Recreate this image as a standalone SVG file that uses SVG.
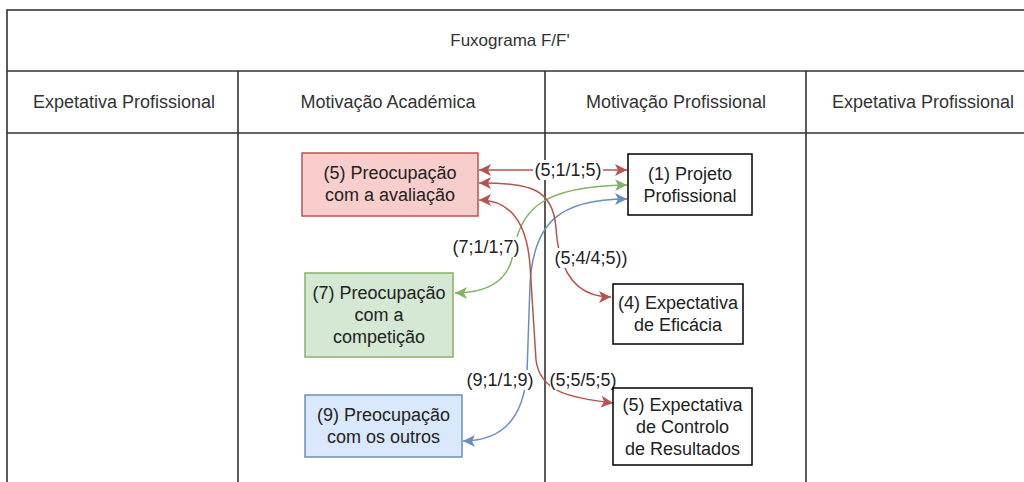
<svg xmlns="http://www.w3.org/2000/svg" width="1024" height="482" viewBox="0 0 1024 482">
<style>
text { font-family: "Liberation Sans", Arial, sans-serif; font-size: 18px; fill: #222; text-anchor: middle; dominant-baseline: central; }
.hdr { fill: #333; }
.title { font-size: 17px; }
.grid { stroke: #333; stroke-width: 1.6; fill: none; }
.node { stroke: #000; stroke-width: 1.5; }
.plain { fill: #fff; }
.red { fill: #f8cecc; stroke: #b85450; }
.green { fill: #d5e8d4; stroke: #82b366; }
.blue { fill: #dae8fc; stroke: #6c8ebf; }
.e { fill: none; stroke-width: 1.5; }
.er { stroke: #b85450; marker-start: url(#mr); marker-end: url(#mr); }
.eg { stroke: #82b366; marker-start: url(#mg); marker-end: url(#mg); }
.eb { stroke: #6c8ebf; marker-start: url(#mb); marker-end: url(#mb); }
.lbg { fill: #fff; stroke: none; }
</style>
<defs>
<marker id="mr" viewBox="0 0 10 10" refX="10" refY="5" markerWidth="12" markerHeight="12" markerUnits="userSpaceOnUse" orient="auto-start-reverse"><path d="M0,0 L10,5 L0,10 L2.5,5 Z" fill="#b85450"/></marker>
<marker id="mg" viewBox="0 0 10 10" refX="10" refY="5" markerWidth="12" markerHeight="12" markerUnits="userSpaceOnUse" orient="auto-start-reverse"><path d="M0,0 L10,5 L0,10 L2.5,5 Z" fill="#82b366"/></marker>
<marker id="mb" viewBox="0 0 10 10" refX="10" refY="5" markerWidth="12" markerHeight="12" markerUnits="userSpaceOnUse" orient="auto-start-reverse"><path d="M0,0 L10,5 L0,10 L2.5,5 Z" fill="#6c8ebf"/></marker>
</defs>
<rect width="1024" height="482" fill="#fff"/>
<g id="table">
<rect class="grid" x="7" y="10" width="1060" height="520"/>
<line class="grid" x1="7" y1="71" x2="1024" y2="71"/>
<line class="grid" x1="7" y1="133" x2="1024" y2="133"/>
<line class="grid" x1="238" y1="71" x2="238" y2="482"/>
<line class="grid" x1="545" y1="71" x2="545" y2="482"/>
<line class="grid" x1="806" y1="71" x2="806" y2="482"/>
<text class="hdr title" x="510" y="40">Fuxograma F/F'</text>
<text class="hdr" x="124" y="102">Expetativa Profissional</text>
<text class="hdr" x="388" y="102">Motivação Académica</text>
<text class="hdr" x="676" y="102">Motivação Profissional</text>
<text class="hdr" x="923" y="102">Expetativa Profissional</text>
</g>
<g id="connectors">
<path class="e er" d="M479,170 L627,170"/>
<path class="e eg" d="M455,293 C490,293 508,280 513,255 C520,210 540,186 627,185"/>
<path class="e eb" d="M463,441 C505,441 524,415 527,372 L530,285 C533,222 560,199 627,199"/>
<path class="e er" d="M479,183 C530,183 553,188 556,228 C559,275 578,297 611,297"/>
<path class="e er" d="M479,200 C512,200 527,225 530,265 L536,360 C540,392 570,398 613,403"/>
<rect class="lbg" x="533" y="160" width="70" height="20"/>
<text x="568" y="170">(5;1/1;5)</text>
<rect class="lbg" x="452" y="237" width="68" height="20"/>
<text x="486" y="247">(7;1/1;7)</text>
<rect class="lbg" x="554" y="248" width="75" height="20"/>
<text x="591" y="258">(5;4/4;5))</text>
<rect class="lbg" x="467" y="370" width="66" height="20"/>
<text x="500" y="380">(9;1/1;9)</text>
<rect class="lbg" x="550" y="370" width="66" height="20"/>
<text x="583" y="380">(5;5/5;5)</text>
</g>
<g id="n-preoc-avaliacao">
<rect class="node red" x="302" y="153" width="176" height="63"/>
<text x="390" y="173">(5) Preocupação</text>
<text x="390" y="195">com a avaliação</text>
</g>
<g id="n-projeto">
<rect class="node plain" x="628" y="154" width="124" height="61"/>
<text x="690" y="174">(1) Projeto</text>
<text x="690" y="196">Profissional</text>
</g>
<g id="n-preoc-competicao">
<rect class="node green" x="305" y="273" width="148" height="84"/>
<text x="379" y="293">(7) Preocupação</text>
<text x="379" y="315">com a</text>
<text x="379" y="337">competição</text>
</g>
<g id="n-eficacia">
<rect class="node plain" x="613" y="284" width="130" height="60"/>
<text x="678" y="303">(4) Expectativa</text>
<text x="678" y="325">de Eficácia</text>
</g>
<g id="n-preoc-outros">
<rect class="node blue" x="305" y="395" width="157" height="62"/>
<text x="383.5" y="415">(9) Preocupação</text>
<text x="383.5" y="437">com os outros</text>
</g>
<g id="n-controlo">
<rect class="node plain" x="613" y="388" width="139" height="77"/>
<text x="682.5" y="405">(5) Expectativa</text>
<text x="682.5" y="427">de Controlo</text>
<text x="682.5" y="449">de Resultados</text>
</g>
</svg>
